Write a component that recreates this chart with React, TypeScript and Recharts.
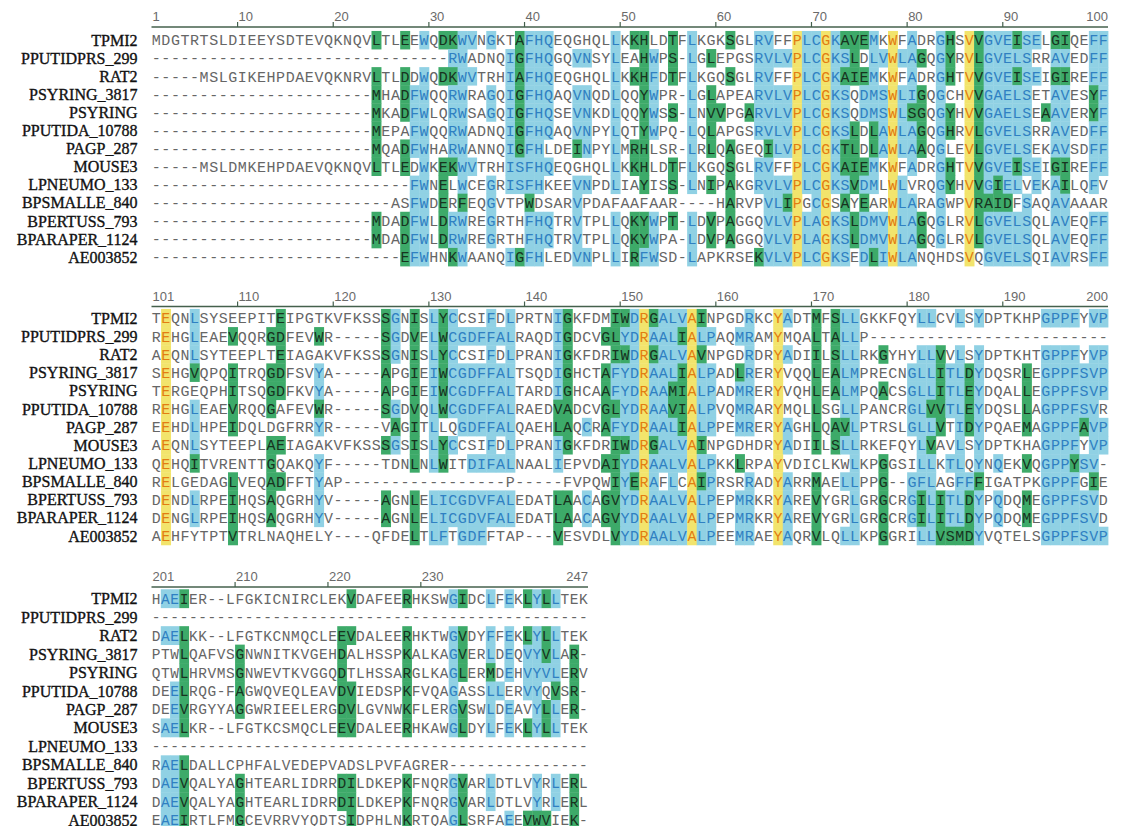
import React from "react";
import { ScatterChart, Scatter, XAxis, YAxis } from "recharts";

const NAMES = [
  "TPMI2", "PPUTIDPRS_299", "RAT2", "PSYRING_3817", "PSYRING", "PPUTIDA_10788", "PAGP_287",
  "MOUSE3", "LPNEUMO_133", "BPSMALLE_840", "BPERTUSS_793", "BPARAPER_1124", "AE003852",
];

// residues 1-100, one string per sequence, spaced every 10 columns
const SEQ_1 = [
  "MDGTRTSLDI EEYSDTEVQK NQVLTLEEWQ DKWVNGKTAF HQEQGHQLLK KHLDTFLKGK SGLRVFFPLC GKAVEMKWFA DRGHSVVGVE ISELGIQEFF",
  "---------- ---------- ---------- -RWADNQIGF HQGQVNSYLE AHWPS-LGLE PGSRVLVPLC GKSLDLVWLA GQGYRVLGVE LSRRAVEDFF",
  "-----MSLGI KEHPDAEVQK NRVLTLDDWQ DKWVTRHIAF HQEQGHQLLK KHFDTFLKGQ SGLRVFFPLC GKAIEMKWFA DRGHTVVGVE ISEIGIREFF",
  "---------- ---------- ---MHADFWQ QRWRAGQIGF HQAQVNQDLQ QYWPR-LGLA PEARVLVPLC GKSQDMSWLI GQGCHVVGAE LSETAVESYF",
  "---------- ---------- ---MKADFWL QRWSAGQIGF HQSEVNKDLQ QYWSS-LNVV PGARVLVPLC GKSQDMSWLS GQGYHVVGAE LSEAAVERYF",
  "---------- ---------- ---MEPAFWQ QRWADNQIGF HQAQVNPYLQ TYWPQ-LQLA PGSRVLVPLC GKSLDLAWLA GQGHRVLGVE LSRRAVEDFF",
  "---------- ---------- ---MQADFWH ARWANNQIGF HLDEINPYLM RHLSR-LRLQ AGEQILVPLC GKTLDLAWLA AQGLEVLGVE LSEKAVSDFF",
  "-----MSLDM KEHPDAEVQK NQVLTLEDWK EKWVTRHISF HQEQGHQLLK KHLDTFLKGQ SGLRVFFPLC GKAIEMKWFA DRGHTVVGVE ISEIGIREFF",
  "---------- ---------- -------FWN ELWCEGRISF HKEEVNPDLI AYISS-LNIP AKGRVLVPLC GKSVDMLWLV RQGYHVVGIE LVEKAILQFV",
  "---------- ---------- -----ASFWD ERFEQGVTPW DSARVPDAFA AFAAR----H ARVPVLIPGC GSAYEARWLA RAGWPVRAID FSAQAVAAAR",
  "---------- ---------- ---MDADFWL DRWREGRTHF HQTRVTPLLQ KYWPT-LDVP AGGQVLVPLA GKSLDMVWLA GQGLRVLGVE LSQLAVEQFF",
  "---------- ---------- ---MDADFWL DRWREGRTHF HQTRVTPLLQ KYWPA-LDVP AGGQVLVPLA GKSLDMVWLA GQGLRVLGVE LSQLAVEQFF",
  "---------- ---------- ------EFWH NKWAANQIGF HLEDVNPLLI RFWSD-LAPK RSEKVLVPLC GKSEDLIWLA NQHDSVQGVE LSQIAVRSFF",
];

// conservation class per residue: y identical, g majority, b similar, . none
const SHADE_1 = [
  ".......... .......... ...g..g.b. ggbb.b..gb bb......b. gg..g.b... g..bb..ybb ybgggb.y.b ..bg.ygbbb gbb.gg..bb",
  ".......... .......... .......... .bb....bgb bb..bb..b. .gb.g.b.g. ...bbbbybb ybbg.bbybb g.bg.ygbbb bb..bb..bb",
  ".......... .......... ...g..g.b. ggbb...bgb bb......b. ggb.g.b... g..bb..ybb ybgggb.y.b ..bg.ygbbb gbb.gg..bb",
  ".......... .......... ...g..gbb. .bb..b.bgb bb..bb..b. .gb...b.g. ...bbbbybb ybb.bbbybb g.b..ygbbb bb..bb..gb",
  ".......... .......... ...g..gbb. .bb..b.bgb bb..bb..b. .gb.g.b.gg ..gbbbbybb ybb.bbbybg g.bg.ygbbb bb.gbb..gb",
  ".......... .......... ...g...bb. .bb....bgb bb..bb..b. .gb...b.g. ...bbbbybb ybbg.gbybb g.bg.ygbbb bb..bb..bb",
  ".......... .......... ...g..gbb. .bb....bgb b...gb..b. gg....b.g. g...gbbybb ybgg.gbybb g.b..ygbbb bb..bb..bb",
  ".......... .......... ...g..g.b. ggbb...bbb bb......b. gg..g.b... g..bb..ybb ybgggb.y.b ..bg.ygbbb gbb.gg..bb",
  ".......... .......... .......bb. g.b..b.bbb b...bb..b. .g..g.b.g. g..bbbbybb ybbgbb.yb. ..bg.ygbgb b.b.bg..b.",
  ".......... .......... .......bb. g.g..b...g ....b..... .......... g...bbgy.b y.g.g..ybb ..b..ygggg .b..bb....",
  ".......... .......... ...g..gbb. gbb..b...b bb..b...b. ggb.g.b.g. g...bbbybb ybbgbbbybb g.b..ygbbb bb..bb..bb",
  ".......... .......... ...g..gbb. gbb..b...b bb..b...b. ggb...b.g. g...bbbybb ybbgbbbybb g.b..ygbbb bb..bb..bb",
  ".......... .......... ......gbb. .gb....bgb b...bb..b. gbb...b... ...gbbbybb ybb.bgbybb .....y.bbb bb..bb..bb",
];

// residues 101-200
const SEQ_2 = [
  "TEQNLSYSEE PITEIPGTKV FKSSSGNISL YCCSIFDLPR TNIGKFDMIW DRGALVAINP GDRKCYADTM FSLLGKKFQY LLCVLSYDPT KHPGPPFYVP",
  "REHGLEAEVQ QRGDFEVWR- ----SGDVEL WCGDFFALRA QDIGDCVGLY DRAALIALPA QMRAMYMQAL TALLP----- ---------- ----------",
  "AEQNLSYTEE PLTEIAGAKV FKSSSGNISL YCCSIFDLPR ANIGKFDRIW DRGALVAVNP GDRDRYADII LSLLRKGYHY LLVVLSYDPT KHTGPPFYVP",
  "SEHGVQPQIT RQGDFSVYA- ----APGIEI WCGDFFALTS QDIGHCTAFY DRAALIALPA DLRERYVQQL EALMPRECNG LLITLDYDQS RLEGPPFSVP",
  "TERGEQPHIT SQGDFKVYA- ----APGIEI WCGDFFALTA RDIGHCAAFY DRAAMIALPA DMRERYVQHL EALMPQACSG LLITLEYDQA LLEGPPFSVP",
  "REHGLEAEVR QQGAFEVWR- ----SGDVQL WCGDFFALRA EDVADCVGLY DRAAVIALPV QMRARYMQLL SGLLPANCRG LVVTLEYDQS LLAGPPFSVR",
  "EEHDLHPEID QLDGFRRYR- ----VAGITL LQGDFFALQA EHLAQCRAFY DRAALIALPP EMRERYAGHL QAVLPTRSLG LLVTIDYPQA EMAGPPFAVP",
  "AEQNLSYTEE PLAEIAGAKV FKSSSGSISL YCCSIFDLPR ANIGKFDRIW DRGALVAINP GDHDRYADII LSLLRKEFQY LVAVLSYDPT KHAGPPFYVP",
  "QEHQITVREN TTGQAKQYF- ----TDNLNL WITDIFALNA ALIEPVDAIY DRAALVALPK KLRPAYVDIC LKWLKPGGSI LLKTLQYNQE KVQGPPYSV-",
  "RELGEDAGLV EQADFFTYAP ---------- -------P-- ---FVPQWIY ERAFLCAIPR SRRADYARRM AELLPPG--G FLAGFFFIGA TPKGPPFGIE",
  "DENDLRPEIH QSAQGRHYV- ----AGNLEL ICGDVFALED ATLAACAGVY DRAALVALPE PMRKRYAREV YGRLGRGCRG ILITLDYPQD QMEGPPFSVD",
  "DENGLRPEIH QSAQGRHYV- ----AGNLEL ICGDVFALED ATLAACAGVY DRAALVALPE PMRKRYAREV YGRLGRGCRG ILITLDYPQD QMEGPPFSVD",
  "AEHFYTPTVT RLNAQHELY- ---QFDELTL FTGDFFTAP- --VESVDLVY DRAALVALPE EMRAEYAQRV LQLLKPGGRI LLVSMDYVQT ELSGPPFSVP",
];

const SHADE_2 = [
  ".y..b..... ...g...... ....gb.g.b gb...b.b.. ..bg....gg bygbbbyg.. ..b..yb..g .gbb...... bb..b.b... ...bbbb.bb",
  ".y..b...g. ..gg...g.. ....gb.g.b gbbbbbbb.. ..bg...ggb bybbbgybb. .bb..y...g .gbb...... .......... ..........",
  ".y..b..... ...g...... ....gb.g.b gb...b.b.. ..bg....gg bygbbbyg.. ..b..yb..g .gbb..g... bbg.b.b... ...bbbb.bb",
  ".y..g...g. ..gg...b.. ....g..g.b gbbbbbbb.. ..bg...gbb bybbbgybb. .gb..y...g .gbb.....b bbgbbgb... .g.bbbbbbb",
  ".y......g. ..gg...b.. ....g..g.b gbbbbbbb.. ..bg...gbb bybbggybb. .bb..y...g .gbb..g..b bbgbbgb... .g.bbbbbbb",
  ".y..b...g. ..g....g.. ....gb.g.b gbbbbbbb.. ..gg...ggb bybbggybb. .bb..y...g ..bb.....b bggbbgb... .g.bbbbbb.",
  ".y..b...g. .......b.. .....g.g.b ..bbbbbb.. ..gg.b.gbb bybbbgybb. .bb..yb..g .ggb.....b bbg.bgb... .g.bbbbgbb",
  ".y..b..... ..gg...... ....gb.g.b gb...b.b.. ..bg....gg bygbbbyg.. .....yb..g .gbb...... bg..b.b... ...bbbb.bb",
  ".y..g..... ..g....b.. .......g.b g..bbbbb.. ..b....ggb bybbbbybb. .g...y.... ...b..g... bb.bb.b.b. .g.bbbgbb.",
  ".y......g. ..gg...b.. .......... .......... ........gb gyb.b.ygb. ..b..yb..g ..bb..g..b bb..bbg... ...bbbb.g.",
  ".y..b...g. ..g....b.. ....g..g.b bbbbbbbb.. ..gg.b.ggb bybbbbybb. .bb..yb..g ...b..g..b gbgbbgb.b. .g.bbbbbb.",
  ".y..b...g. ..g....b.. ....g..g.b bbbbbbbb.. ..gg.b.ggb bybbbbybb. .bb..yb..g ...b..g..b gbgbbgb.b. .g.bbbbbb.",
  ".y......g. .......... .......g.b b.bbb..... ..g.....gb bybbbbybb. .bb..yb..g ..bb..g... bbggggb... ...bbbbbbb",
];

// residues 201-247
const SEQ_3 = [
  "HAEIER--LF GKICNIRCLE KVDAFEERHK SWGIDCLFEK LYLLTEK",
  "---------- ---------- ---------- ---------- -------",
  "DAELKK--LF GTKCNMQCLE EVDALEERHK TWGVDYFFEK LYLLTEK",
  "PTWLQAFVSG NWNITKVGEH DALHSSPKAL KAGVERLDEQ VYVLAR-",
  "QTWLHRVMSG NWEVTKVGGQ DTLHSSARGL KAGLERMDEH VYVLERV",
  "DEELRQG-FA GWQVEQLEAV DVIEDSPKFV QAGASSLLER VYQVSR-",
  "DEEVRGYYAG GWRIEELERG DVLGVNWKFL ERGVSWLDEA VYLLER-",
  "SAELKR--LF GTKCSMQCLE EVDALEERHK AWGLDYLFEK LYLLTEK",
  "---------- ---------- ---------- ---------- -------",
  "RAELDALLCP HFALVEDEPV ADSLPVFAGR ER-------- -------",
  "DAEVQALYAG HTEARLIDRR DILDKEPKFN QRGVARLDTL VYRLERL",
  "DAEVQALYAG HTEARLIDRR DILDKEPKFN QRGVARLDTL VYRLERL",
  "EAEIRTLFMG CEVRRVYQDT SIDPHLNKRT QAGLSRFAEE VWVIEK-",
];

const SHADE_3 = [
  ".bbg...... .......... .g.....g.. ..bg..b.b. gbgb...",
  ".......... .......... .......... .......... .......",
  ".bbg...... .......... gg.....g.. ..bg..b.b. gbgb...",
  "...g.....g .......... g......g.. ..bg..b.b. bbgb.g.",
  "...g.....g .......... g......g.. ..bg..g.b. bbbb.g.",
  "..bg.....g .......... gg.....g.. ..b...bb.. bb.g.g.",
  "..bg.....g .......... gg.....g.. ..bg..b.b. .bgb.g.",
  ".bbg...... .......... gg.....g.. ..bg..b.b. gbgb...",
  ".......... .......... .......... .......... .......",
  ".bbg...... .......... .......... .......... .......",
  ".bbg.....g .......... gg.....g.. ..bg..b... .b.b.g.",
  ".bbg.....g .......... gg.....g.. ..bg..b... .b.b.g.",
  ".bbg.....g .......... .g.....g.. ..bg....b. ggg..g.",
];

const TICKS_1 = [1, 10, 20, 30, 40, 50, 60, 70, 80, 90, 100];
const TICKS_2 = [101, 110, 120, 130, 140, 150, 160, 170, 180, 190, 200];
const TICKS_3 = [201, 210, 220, 230, 247];

const PALETTE: Record<string, { bg: string | null; fg: string }> = {
  y: { bg: "#f2e46c", fg: "#e27d12" },
  g: { bg: "#3daa69", fg: "#17331f" },
  b: { bg: "#90d1e4", fg: "#2f80c2" },
  ".": { bg: null, fg: "#666666" },
};

const RULE = "#44604c";
const PLOT_LEFT = 151.5;

const strip = (s: string) => s.replace(/ /g, "");

function buildCells(seqs: string[], shades: string[], first: number) {
  const out: { col: number; row: number; ch: string; shade: string }[] = [];
  seqs.forEach((s, row) => {
    const seq = strip(s);
    const sh = strip(shades[row]);
    for (let k = 0; k < seq.length; k++) {
      out.push({ col: first + k, row, ch: seq[k], shade: sh[k] || "." });
    }
  });
  return out;
}

type BlockProps = {
  seqs: string[];
  shades: string[];
  ticks: number[];
  top: number;
  lineY: number;
  row0: number;
  rowStep: number;
  plotRight: number;
  fontSize: number;
};

function Block({ seqs, shades, ticks, top, lineY, row0, rowStep, plotRight, fontSize }: BlockProps) {
  const first = ticks[0];
  const last = ticks[ticks.length - 1];
  const ncols = last - first + 1;
  const colStep = (plotRight - PLOT_LEFT) / ncols;
  const headH = lineY - top;
  const lead = (row0 - lineY) / rowStep;
  const padB = 2;
  const height = headH + (lead + NAMES.length - 0.5) * rowStep + padB;
  const data = buildCells(seqs, shades, first);
  const tickVals = ticks.map((t, i) => (i === ticks.length - 1 ? t + 0.5 : t - 0.5));

  const renderCell = (p: any) => {
    const { cx, cy, payload } = p;
    const c = PALETTE[payload.shade] || PALETTE["."];
    return (
      <g>
        {c.bg && (
          <rect x={cx - colStep / 2} y={cy - rowStep / 2} width={colStep + 0.4} height={rowStep + 0.4} fill={c.bg} />
        )}
        <text
          x={cx}
          y={cy}
          dy="0.36em"
          textAnchor="middle"
          fontFamily="'Liberation Mono', 'DejaVu Sans Mono', monospace"
          fontSize={fontSize}
          fill={c.fg}
        >
          {payload.ch}
        </text>
      </g>
    );
  };

  const renderHead = (p: any) => {
    const v = p.payload.value;
    const isLast = v === last + 0.5;
    const isFirst = v === first - 0.5;
    const label = isLast ? last : Math.round(v + 0.5);
    return (
      <g>
        {!isFirst && !isLast && (
          <line x1={p.x} x2={p.x} y1={headH} y2={headH - 5} stroke={RULE} strokeWidth={1.2} />
        )}
        <text
          x={isLast ? p.x : p.x + 1}
          y={headH - 6}
          textAnchor={isLast ? "end" : "start"}
          fontFamily="'Liberation Sans', Arial, sans-serif"
          fontSize={13}
          fill="#6a6a6a"
        >
          {label}
        </text>
      </g>
    );
  };

  const renderName = (p: any) => (
    <text
      x={p.x}
      y={p.y}
      dy="0.36em"
      textAnchor="end"
      fontFamily="'Liberation Serif', 'Times New Roman', serif"
      fontSize={16}
      fill="#111"
      stroke="#111"
      strokeWidth={0.35}
    >
      {NAMES[p.payload.value]}
    </text>
  );

  return (
    <div style={{ position: "absolute", left: 0, top }}>
      <ScatterChart
        width={1127}
        height={height}
        margin={{ top: 0, right: 1127 - plotRight, bottom: padB, left: 0 }}
      >
        <XAxis
          type="number"
          dataKey="col"
          orientation="top"
          domain={[first - 0.5, last + 0.5]}
          ticks={tickVals}
          interval={0}
          height={headH}
          tickLine={false}
          axisLine={{ stroke: RULE, strokeWidth: 1.7 }}
          tick={renderHead}
        />
        <YAxis
          type="number"
          dataKey="row"
          reversed
          domain={[-lead, NAMES.length - 0.5]}
          ticks={NAMES.map((_, i) => i)}
          interval={0}
          width={PLOT_LEFT}
          tickSize={0}
          tickMargin={14}
          axisLine={false}
          tickLine={false}
          tick={renderName}
        />
        <Scatter data={data} isAnimationActive={false} shape={renderCell} />
      </ScatterChart>
    </div>
  );
}

export default function App() {
  return (
    <div
      style={{
        position: "absolute",
        left: 0,
        top: 0,
        width: 1127,
        height: 826,
        overflow: "hidden",
        background: "#fff",
      }}
    >
      <Block seqs={SEQ_1} shades={SHADE_1} ticks={TICKS_1} top={0} lineY={27} row0={40} rowStep={18.08} plotRight={1108} fontSize={15} />
      <Block seqs={SEQ_2} shades={SHADE_2} ticks={TICKS_2} top={280} lineY={306.5} row0={318} rowStep={18.15} plotRight={1108} fontSize={15} />
      <Block seqs={SEQ_3} shades={SHADE_3} ticks={TICKS_3} top={560} lineY={587} row0={598.5} rowStep={18.45} plotRight={588} fontSize={14.5} />
    </div>
  );
}
